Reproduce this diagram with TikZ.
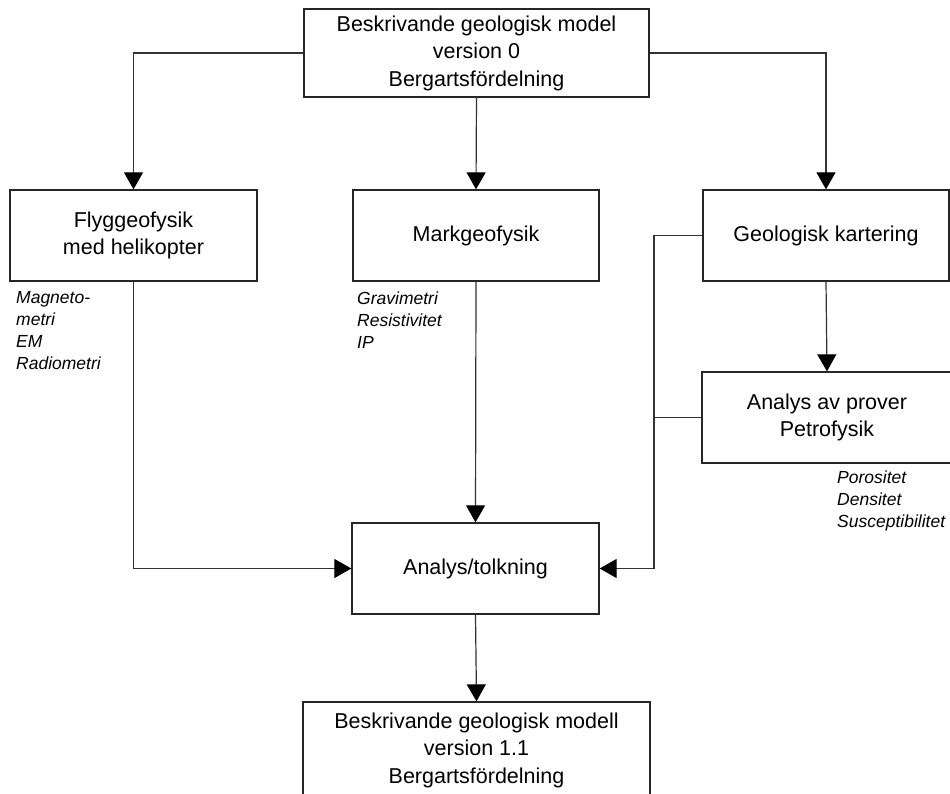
\documentclass[tikz,border=0pt]{standalone}
\usepackage{fontspec}
\setmainfont{Liberation Sans}
\usetikzlibrary{arrows.meta}
\begin{document}
\begin{tikzpicture}[x=1pt,y=-1pt,
  box/.style={draw=black!85, line width=1.3pt, fill=white, align=center,
    inner sep=0pt, font=\fontsize{21.5}{27.5}\selectfont},
  link/.style={draw=black!80, line width=1.2pt},
  arr/.style={link, -{Triangle[width=19pt,length=17pt,color=black]}},
  note/.style={align=left, inner sep=0pt, anchor=west,
    font=\fontsize{17.5}{22}\selectfont\itshape}]
\useasboundingbox (0,0) rectangle (950,794);
\clip (0,0) rectangle (950,794);

% boxes
\node[box, minimum width=345pt, minimum height=88pt] (top) at (476.5,53)
  {Beskrivande geologisk model\\version 0\\Bergartsfördelning};
\node[box, minimum width=247pt, minimum height=91pt] (flyg) at (133.5,235.5)
  {Flyggeofysik\\med helikopter};
\node[box, minimum width=246pt, minimum height=91pt] (mark) at (476,235.5)
  {Markgeofysik};
\node[box, minimum width=246pt, minimum height=91pt] (geo) at (826,235.5)
  {Geologisk kartering};
\node[box, minimum width=250pt, minimum height=91pt] (prov) at (827,417.5)
  {Analys av prover\\Petrofysik};
\node[box, minimum width=247pt, minimum height=91pt] (anal) at (475.5,568.5)
  {Analys/tolkning};
\node[box, minimum width=347pt, minimum height=96pt] (res) at (476.5,750)
  {Beskrivande geologisk modell\\version 1.1\\Bergartsfördelning};

% method notes
\node[note] (nflyg) at (16,331) {Magneto-\\metri\\EM\\Radiometri};
\node[note] (nmark) at (357,320) {Gravimetri\\Resistivitet\\IP};
\node[note] (nprov) at (837,501) {Porositet\\Densitet\\Susceptibilitet};

% collecting line from the field work
\coordinate (bus) at (654,400);

% connectors
\draw[arr] (top.west) -| (flyg.north);
\draw[arr] (top.south) -- (mark.north);
\draw[arr] (top.east) -| (geo.north);
\draw[arr] (geo.south) -- (prov.north);
\draw[arr] (flyg.south) |- (anal.west);
\draw[arr] (mark.south) -- (anal.north);
\draw[arr] (geo.west) -| (bus) |- (anal.east);
\draw[link] (prov.west) -- (prov.west -| bus);
\draw[arr] (anal.south) -- (res.north);
\end{tikzpicture}
\end{document}
